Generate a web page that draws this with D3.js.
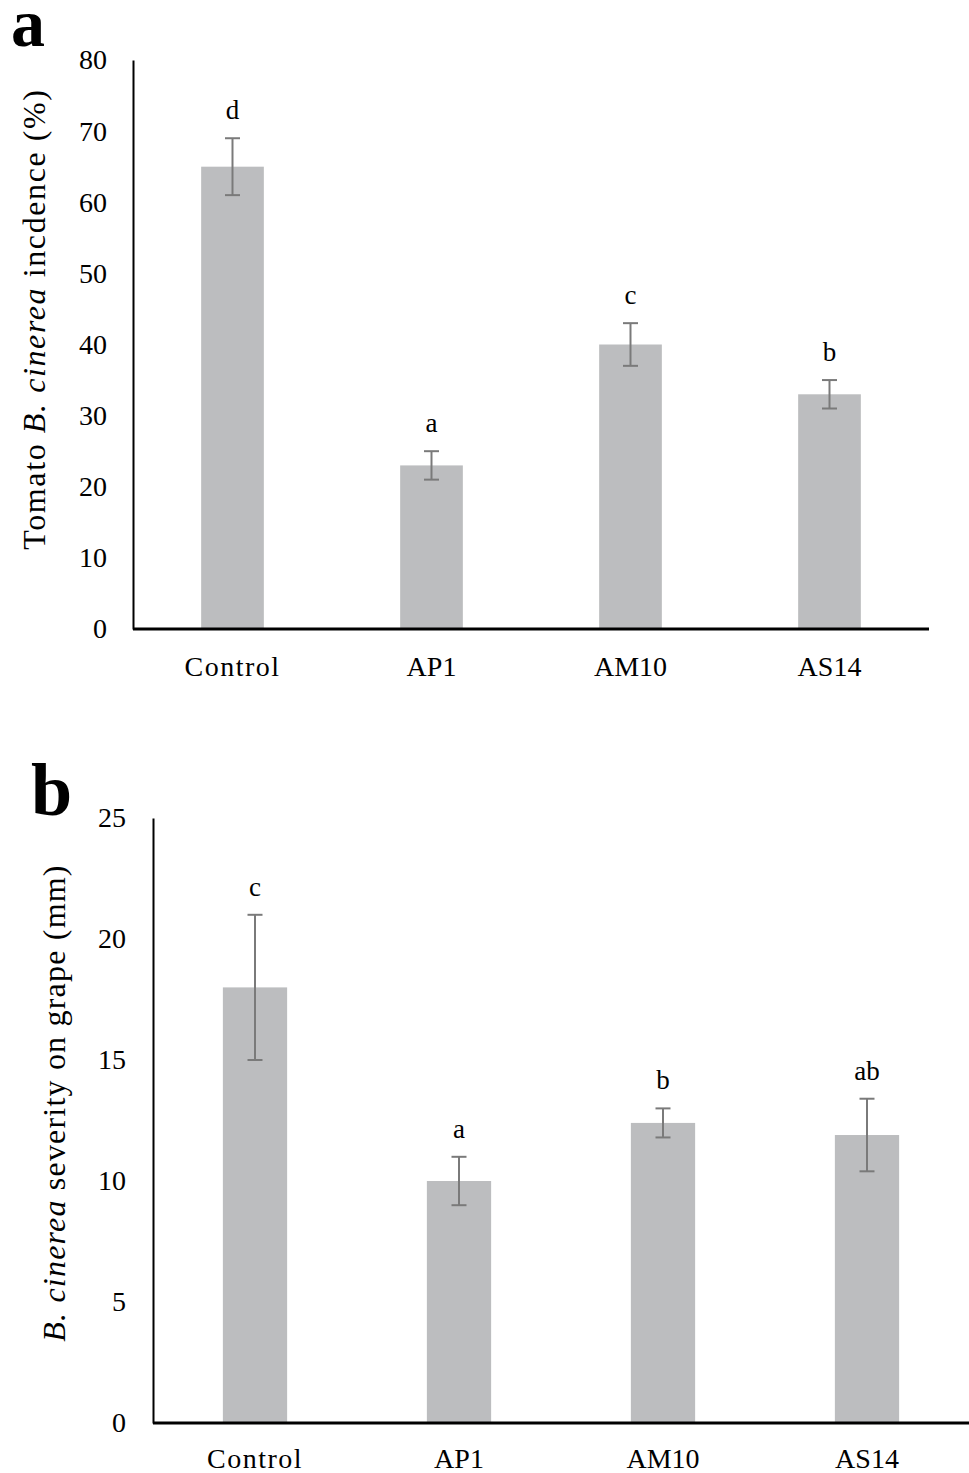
<!DOCTYPE html>
<html>
<head>
<meta charset="utf-8">
<script src="https://cdn.jsdelivr.net/npm/d3@7"></script>
<style>
  body { margin: 0; background: #fff; }
  text { font-family: "Liberation Serif", "Times New Roman", serif; fill: #000; }
</style>
</head>
<body>
<script>
// categories shared by both panels
var categories = ["Control", "AP1", "AM10", "AS14"];

// panel a: tomato incidence (%)
var incidence = [65, 23, 40, 33];
var incidenceErr = [4, 2, 3, 2];
var incidenceLetters = ["d", "a", "c", "b"];
var incidenceTicks = [0, 10, 20, 30, 40, 50, 60, 70, 80];

// panel b: severity on grape (mm)
var severityLow = [15, 9, 11.8, 10.4];
var severity = [18, 10, 12.4, 11.9];
var severityHigh = [21, 11, 13, 13.4];
var severityLetters = ["c", "a", "b", "ab"];
var severityTicks = [0, 5, 10, 15, 20, 25];

var svg = d3.select("body").append("svg")
    .attr("width", 969)
    .attr("height", 1473);

function panel(opt) {
  var x = d3.scaleBand().domain(categories)
      .range([opt.left, opt.right]).paddingInner(0.685).paddingOuter(0.3425);
  var y = d3.scaleLinear().domain([0, opt.max]).range([opt.bottom, opt.top]);
  var g = svg.append("g");

  // bars
  g.selectAll("rect.bar").data(opt.values).enter().append("rect")
      .attr("class", "bar")
      .attr("x", function(d, i) { return x(categories[i]); })
      .attr("width", x.bandwidth())
      .attr("y", function(d) { return y(d); })
      .attr("height", function(d) { return y(0) - y(d); })
      .attr("fill", "#bcbdbf");

  // error bars
  var eb = g.selectAll("g.err").data(opt.values).enter().append("g").attr("class", "err")
      .attr("stroke", "#7a7a7a").attr("stroke-width", 2);
  eb.append("line")
      .attr("x1", function(d, i) { return x(categories[i]) + x.bandwidth() / 2; })
      .attr("x2", function(d, i) { return x(categories[i]) + x.bandwidth() / 2; })
      .attr("y1", function(d, i) { return y(opt.lo[i]); })
      .attr("y2", function(d, i) { return y(opt.hi[i]); });
  [opt.lo, opt.hi].forEach(function(arr) {
    eb.append("line")
        .attr("x1", function(d, i) { return x(categories[i]) + x.bandwidth() / 2 - 7.5; })
        .attr("x2", function(d, i) { return x(categories[i]) + x.bandwidth() / 2 + 7.5; })
        .attr("y1", function(d, i) { return y(arr[i]); })
        .attr("y2", function(d, i) { return y(arr[i]); });
  });

  // significance letters
  g.selectAll("text.sig").data(opt.letters).enter().append("text")
      .attr("class", "sig")
      .attr("x", function(d, i) { return x(categories[i]) + x.bandwidth() / 2; })
      .attr("y", function(d, i) { return y(opt.hi[i]) - 19; })
      .attr("text-anchor", "middle")
      .style("font-size", "27px")
      .text(function(d) { return d; });

  // y axis
  var ya = g.append("g")
      .attr("transform", "translate(" + opt.left + ",0)")
      .call(d3.axisLeft(y).tickValues(opt.ticks).tickSize(0).tickPadding(opt.yPad));
  ya.select(".domain").attr("stroke", "#000").attr("stroke-width", 2);
  ya.selectAll("text").style("font-size", "28px")
      .style("font-family", "'Liberation Serif', serif");

  // x axis
  var xa = g.append("g")
      .attr("transform", "translate(0," + opt.bottom + ")")
      .call(d3.axisBottom(x).tickSize(0).tickPadding(opt.xPad));
  xa.select(".domain").attr("stroke", "#000").attr("stroke-width", 3)
      .attr("d", "M" + opt.left + ",0H" + opt.right);
  xa.selectAll("text").style("font-size", "28px")
      .style("font-family", "'Liberation Serif', serif")
      .style("letter-spacing", function(d) { return d == "Control" ? "1.5px" : "0px"; });

  // y title
  var t = g.append("text")
      .attr("transform", "translate(" + opt.titleX + "," + opt.titleY + ") rotate(-90)")
      .attr("text-anchor", "middle")
      .style("font-size", "32px")
      .style("letter-spacing", opt.titleSpacing);
  opt.title.forEach(function(p) {
    t.append("tspan").style("font-style", p[1] ? "italic" : "normal").text(p[0]);
  });

  // panel letter
  g.append("text")
      .attr("x", opt.tagX).attr("y", opt.tagY)
      .style("font-size", opt.tagSize).style("font-weight", "bold")
      .text(opt.tag);
}

panel({
  left: 133, right: 929, top: 60, bottom: 629, max: 80,
  values: incidence,
  lo: incidence.map(function(d, i) { return d - incidenceErr[i]; }),
  hi: incidence.map(function(d, i) { return d + incidenceErr[i]; }),
  letters: incidenceLetters, ticks: incidenceTicks, yPad: 26, xPad: 27,
  title: [["Tomato ", false], ["B. cinerea", true], [" incdence (%)", false]],
  titleX: 45, titleY: 319, titleSpacing: "1.6px",
  tag: "a", tagX: 11, tagY: 46, tagSize: "68px"
});

panel({
  left: 153, right: 969, top: 818, bottom: 1423, max: 25,
  values: severity, lo: severityLow, hi: severityHigh,
  letters: severityLetters, ticks: severityTicks, yPad: 27, xPad: 25,
  title: [["B. cinerea", true], [" severity on grape (mm)", false]],
  titleX: 65, titleY: 1103, titleSpacing: "1.2px",
  tag: "b", tagX: 31, tagY: 815, tagSize: "74px"
});
</script>
</body>
</html>
